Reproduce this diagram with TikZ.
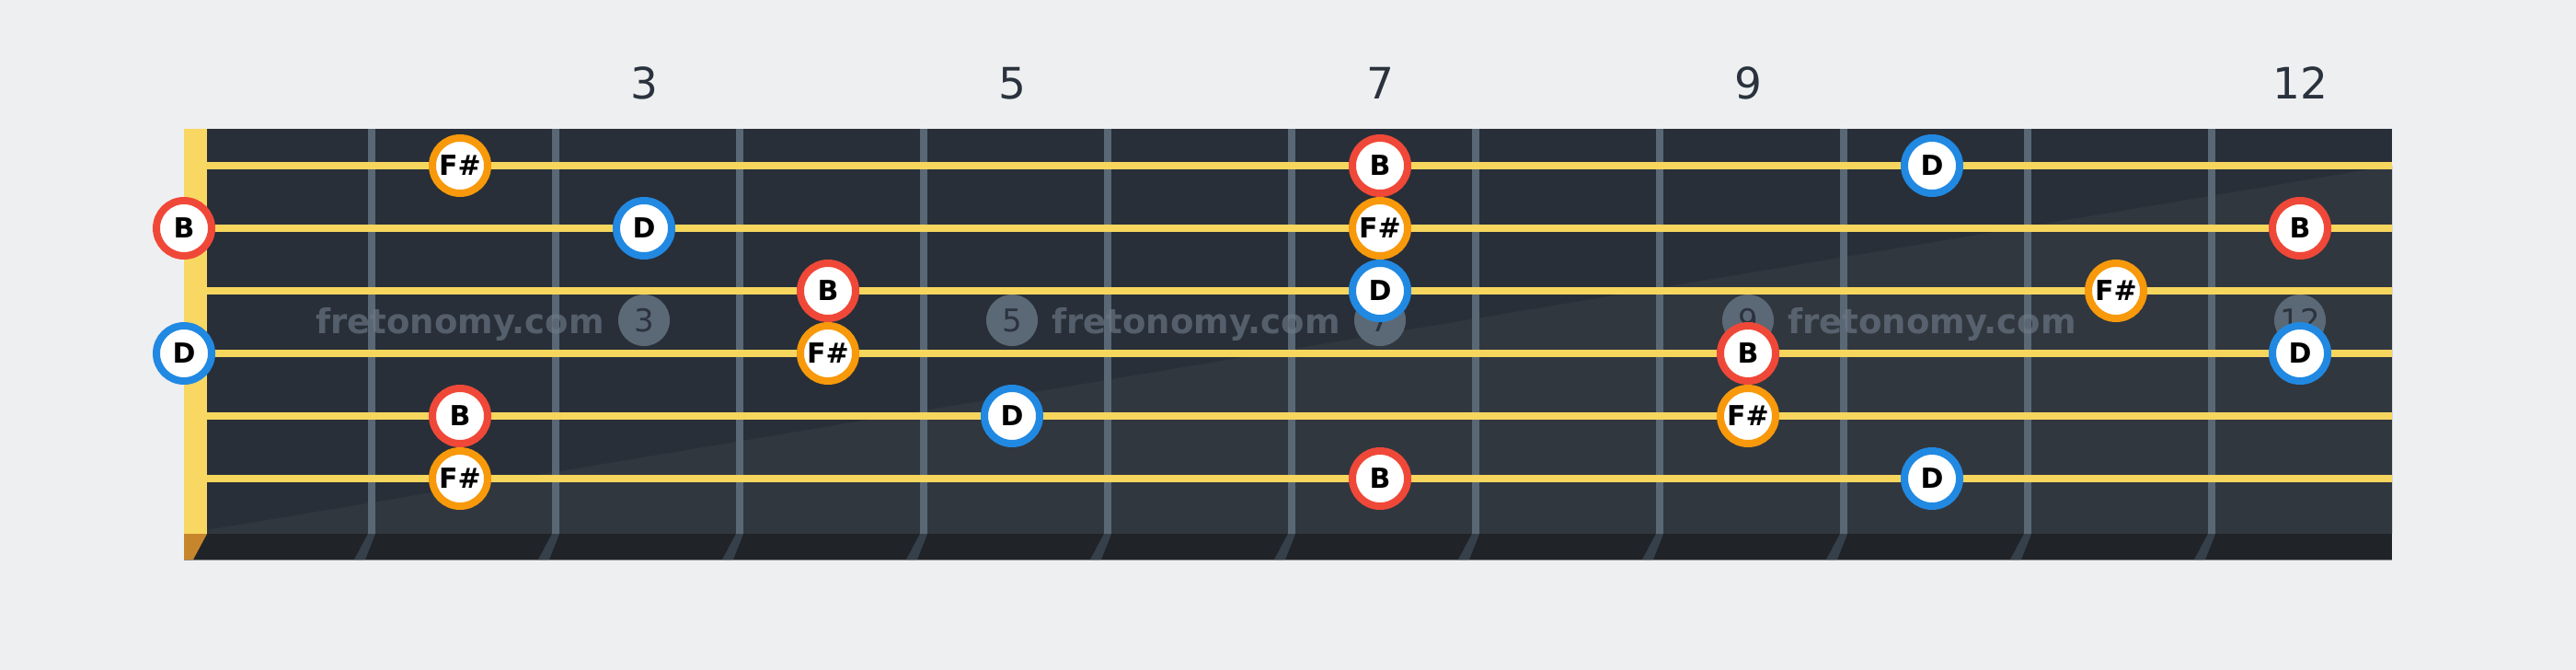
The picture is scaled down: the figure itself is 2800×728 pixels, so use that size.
\documentclass[tikz,border=0pt]{standalone}
\usepackage{fontspec}
\setmainfont{DejaVu Sans}
\definecolor{bg}{HTML}{EEEFF1}
\definecolor{boardA}{HTML}{282F38}
\definecolor{boardB}{HTML}{31373F}
\definecolor{stripc}{HTML}{202428}
\definecolor{fretc}{HTML}{5A6876}
\definecolor{fretsh}{HTML}{36404B}
\definecolor{stringc}{HTML}{F7D65E}
\definecolor{nutc}{HTML}{F8D862}
\definecolor{nutbot}{HTML}{C8862C}
\definecolor{markc}{HTML}{5B6876}
\definecolor{markt}{HTML}{2B333D}
\definecolor{wmark}{HTML}{6E7A88}
\definecolor{numc}{HTML}{2A323D}
\definecolor{redc}{HTML}{F04838}
\definecolor{orgc}{HTML}{F7990A}
\definecolor{bluc}{HTML}{2189E2}
\begin{document}
\begin{tikzpicture}[x=1pt,y=-1pt,
  notebox/.style={circle, fill=white, draw=#1, line width=8pt, minimum size=60pt, inner sep=0pt,
    font=\fontsize{30}{30}\selectfont\bfseries, text=black},
  markbox/.style={circle, fill=markc, minimum size=56pt, inner sep=0pt},
  marktext/.style={font=\fontsize{34}{34}\selectfont, text=markt, anchor=base},
  wmtext/.style={font=\fontsize{37}{37}\selectfont\bfseries, text=wmark, text opacity=0.65, anchor=base},
  fretnum/.style={font=\fontsize{47}{47}\selectfont, text=numc, anchor=base},
  stringline/.style={draw=stringc, line width=8pt}]
\useasboundingbox (0,0) rectangle (2800,728);
\fill[bg] (0,0) rectangle (2800,728);
% board
\fill[boardA] (200,140) rectangle (2600,580);
\fill[boardB] (200,580) -- (2600,180) -- (2600,580) -- cycle;
\fill[stripc] (200,580) rectangle (2600,608);
\draw[draw=black!45, line width=1.5pt] (200,608.5) -- (2600,608.5);
% frets
\foreach \n in {1,...,11}{
  \pgfmathsetmacro{\fx}{204+200*\n}
  \fill[fretc] (\fx-4,140) rectangle (\fx+4,580);
  \fill[fretsh] (\fx-4,580) -- (\fx+4,580) -- (\fx-7,608) -- (\fx-19,608) -- cycle;
}
% nut
\fill[nutc] (200,140) rectangle (225,580);
\fill[nutbot] (200,580) -- (225,580) -- (210,608) -- (200,608) -- cycle;
% fret markers
\foreach \x/\t/\nm in {700/3/m3,1100/5/m5,1500/7/m7,1900/9/m9,2500/12/m12}{
  \node[markbox] (\nm) at (\x,348) {};
  \node[marktext] (\nm t) at (\x,360) {\t};
}
% watermark
\node[wmtext] (w1) at (500,362) {fretonomy.com};
\node[wmtext] (w2) at (1300,362) {fretonomy.com};
\node[wmtext] (w3) at (2100,362) {fretonomy.com};
% strings
\foreach \i in {1,...,6}{
  \coordinate (s\i a) at (225,112+68*\i);
  \coordinate (s\i b) at (2600,112+68*\i);
  \draw[stringline] (s\i a) -- (s\i b);
}
% fret numbers
\node[fretnum] (f3) at (700,107) {3};
\node[fretnum] (f5) at (1100,107) {5};
\node[fretnum] (f7) at (1500,107) {7};
\node[fretnum] (f9) at (1900,107) {9};
\node[fretnum] (f12) at (2500,107) {12};
% notes
\node[notebox=orgc] (a1) at (500,180) {F\#};
\node[notebox=redc] (a2) at (1500,180) {B};
\node[notebox=bluc] (a3) at (2100,180) {D};
\node[notebox=redc] (b1) at (200,248) {B};
\node[notebox=bluc] (b2) at (700,248) {D};
\node[notebox=orgc] (b3) at (1500,248) {F\#};
\node[notebox=redc] (b4) at (2500,248) {B};
\node[notebox=redc] (c1) at (900,316) {B};
\node[notebox=bluc] (c2) at (1500,316) {D};
\node[notebox=orgc] (c3) at (2300,316) {F\#};
\node[notebox=bluc] (d1) at (200,384) {D};
\node[notebox=orgc] (d2) at (900,384) {F\#};
\node[notebox=redc] (d3) at (1900,384) {B};
\node[notebox=bluc] (d4) at (2500,384) {D};
\node[notebox=redc] (e1) at (500,452) {B};
\node[notebox=bluc] (e2) at (1100,452) {D};
\node[notebox=orgc] (e3) at (1900,452) {F\#};
\node[notebox=orgc] (g1) at (500,520) {F\#};
\node[notebox=redc] (g2) at (1500,520) {B};
\node[notebox=bluc] (g3) at (2100,520) {D};
\end{tikzpicture}
\end{document}
